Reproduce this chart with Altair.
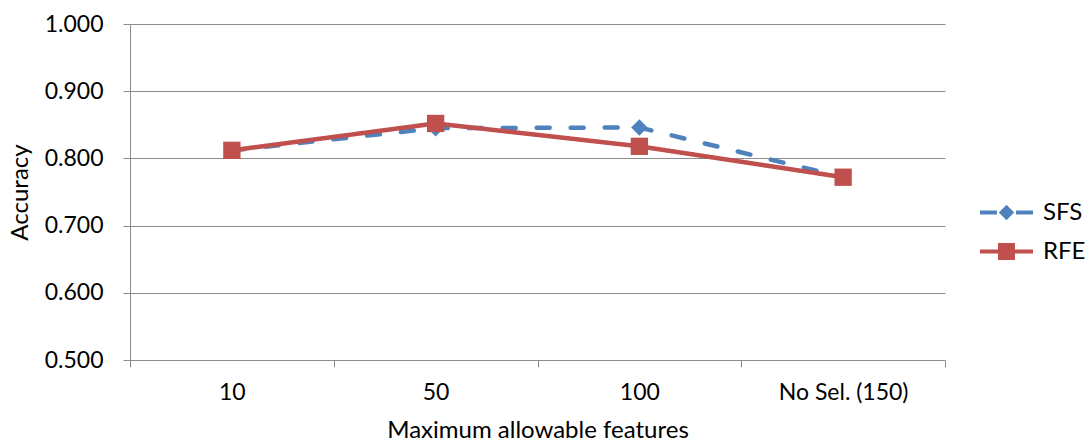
import altair as alt
import pandas as pd

# Accuracy of two feature-selection methods by feature budget
categories = ["10", "50", "100", "No Sel. (150)"]
sfs_acc = [0.812, 0.845, 0.846, 0.772]
rfe_acc = [0.812, 0.852, 0.818, 0.772]
methods = ["SFS", "RFE"]
method_colors = ["#4F81BD", "#C0504D"]
y_ticks = [0.5, 0.6, 0.7, 0.8, 0.9, 1.0]

df = pd.DataFrame({
    "features": categories * 2,
    "accuracy": sfs_acc + rfe_acc,
    "method": ["SFS"] * len(categories) + ["RFE"] * len(categories),
})
legend_df = pd.DataFrame({"method": methods})

FONT = "Lato"
AXIS_GRAY = "#8c8c8c"

x_enc = alt.X(
    "features:N",
    sort=categories,
    bandPosition=0.5,
    scale=alt.Scale(type="band", paddingInner=0, paddingOuter=0),
    axis=alt.Axis(
        title="Maximum allowable features",
        tickBand="extent",
        labelAngle=0,
        grid=False,
        tickSize=7,
        labelPadding=14,
        titlePadding=14,
    ),
)
y_enc = alt.Y(
    "accuracy:Q",
    scale=alt.Scale(domain=[0.5, 1.0], nice=False, zero=False),
    axis=alt.Axis(
        title="Accuracy",
        values=y_ticks,
        format=".3f",
        grid=True,
        tickSize=7,
        labelPadding=20,
        titlePadding=12,
    ),
)

def series_layers(name, color, dash, shape, size):
    sub = df[df["method"] == name]
    line = alt.Chart(sub).mark_line(
        color=color, strokeWidth=4.5, strokeDash=dash, strokeCap="round"
    ).encode(x=x_enc, y=y_enc)
    pts = alt.Chart(sub).mark_point(
        color=color, filled=True, opacity=1, shape=shape, size=size
    ).encode(x=x_enc, y=y_enc)
    return line + pts

sfs_layer = series_layers("SFS", method_colors[0], [13, 21], "diamond", 270)
rfe_layer = series_layers("RFE", method_colors[1], [1, 0], "square", 300)

# Legend symbols drawn as filled paths: line pieces plus the marker
sfs_symbol = ("M-1,-0.08H-0.36V0.08H-1Z"
              "M0.36,-0.08H1V0.08H0.36Z"
              "M0,-0.29L0.29,0L0,0.29L-0.29,0Z")
rfe_symbol = ("M-1,-0.08H1V0.08H-1Z"
              "M-0.32,-0.32H0.32V0.32H-0.32Z")

# Layer that only feeds the legend; its own points are transparent
legend_layer = alt.Chart(legend_df).mark_point(
    filled=True, opacity=0
).encode(
    color=alt.Color("method:N",
                    scale=alt.Scale(domain=methods, range=method_colors),
                    legend=alt.Legend(title=None)),
    shape=alt.Shape("method:N",
                    scale=alt.Scale(domain=methods, range=[sfs_symbol, rfe_symbol]),
                    legend=alt.Legend(title=None)),
)

chart = alt.layer(sfs_layer, rfe_layer, legend_layer).properties(
    width=815,
    height=336,
    autosize=alt.AutoSizeParams(type="none"),
    padding={"left": 130, "top": 24, "right": 142, "bottom": 83},
).configure_view(
    stroke=None
).configure_axis(
    labelFont=FONT,
    titleFont=FONT,
    labelFontSize=23,
    titleFontSize=24,
    titleFontWeight="normal",
    labelColor="#000000",
    titleColor="#000000",
    domainColor=AXIS_GRAY,
    tickColor=AXIS_GRAY,
    gridColor=AXIS_GRAY,
    domainWidth=1,
    tickWidth=1,
    gridWidth=1,
).configure_legend(
    orient="none",
    legendX=850,
    legendY=162,
    symbolSize=2809,
    symbolStrokeWidth=0,
    symbolOpacity=1,
    labelFont=FONT,
    labelFontSize=24,
    labelColor="#000000",
    labelOffset=10,
    rowPadding=-13,
)

chart.save("out.html", embed_options={"renderer": "svg", "actions": False})
